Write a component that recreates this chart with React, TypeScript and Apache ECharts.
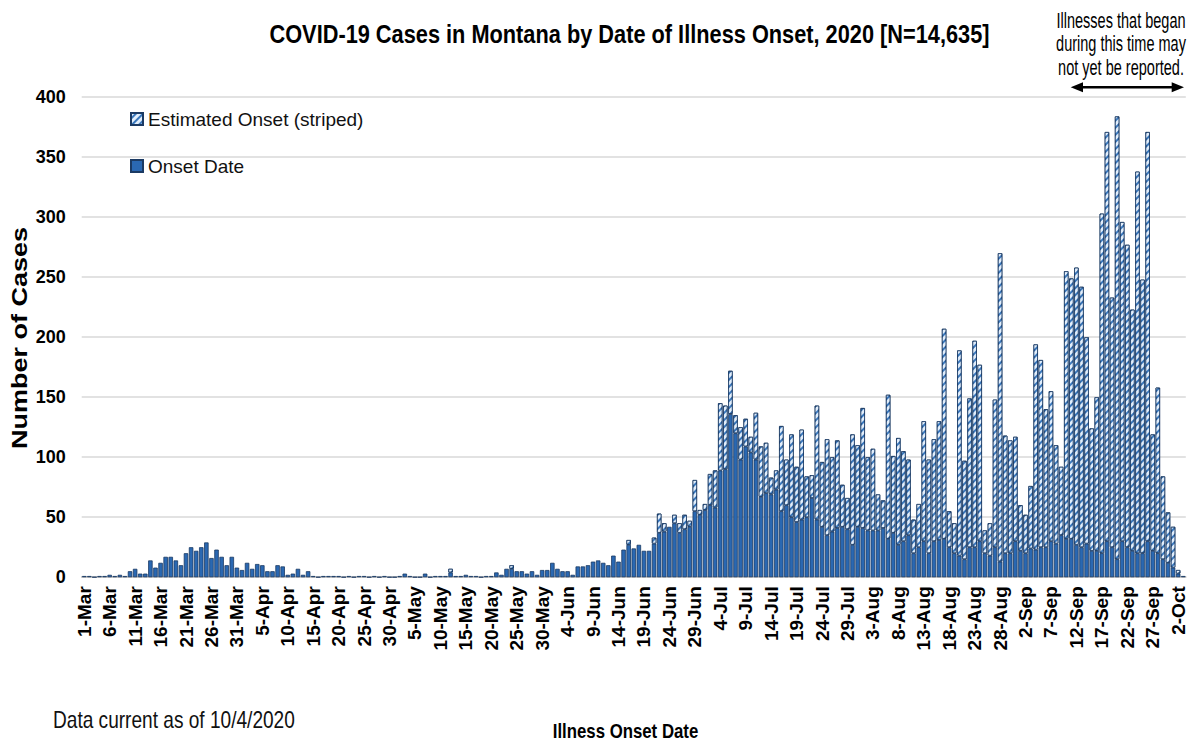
import React, { useEffect, useRef } from "react";
import * as echarts from "echarts";

// ---- categories (1-Mar .. 3-Oct 2020) ----
const monthNames = ["Mar", "Apr", "May", "Jun", "Jul", "Aug", "Sep", "Oct"];
const monthDays = [31, 30, 31, 30, 31, 31, 30, 3];
const categories: string[] = [];
monthNames.forEach((m, i) => {
  for (let d = 1; d <= monthDays[i]; d++) categories.push(`${d}-${m}`);
});

// ---- series values ----
// Onset Date (solid)
const onsetDate = [
  // 1-Mar .. 18-Apr
  1, 1, 0, 1, 1, 2, 1, 2, 1, 5, 7, 3, 3, 14, 8, 12, 17, 17, 14, 10,
  20, 25, 22, 25, 29, 16, 23, 17, 10, 17, 8, 6, 12, 7, 11, 10, 5, 5, 10, 9,
  2, 3, 7, 2, 5, 1, 0, 1, 1,
  // 19-Apr .. 13-May
  1, 1, 0, 1, 0, 1, 1, 0, 1, 0, 1, 0, 0, 1, 3, 1, 0, 0, 3, 0, 1, 1, 1, 4, 1,
  // 14-May .. 12-Jun
  1, 2, 1, 1, 0, 1, 1, 4, 2, 7, 7, 5, 5, 3, 5, 2, 6, 6, 12, 7, 5, 5, 2, 9, 9,
  10, 13, 14, 12, 10,
  // 13-Jun .. 19-Jul
  18, 13, 23, 27, 24, 27, 22, 22, 28, 37, 38, 42, 45, 37, 40, 42, 55, 52, 56, 60,
  58, 89, 90, 136, 120, 98, 109, 104, 98, 67, 70, 69, 73, 55, 60, 50, 46,
  // 20-Jul .. 10-Aug
  48, 50, 66, 48, 42, 35, 38, 41, 42, 40, 27, 42, 41, 39, 39, 39, 41, 32, 37, 27,
  30, 35,
  // 11-Aug .. 3-Oct
  20, 25, 30, 20, 30, 31, 32, 25, 20, 18, 15, 25, 25, 30, 20, 18, 25, 13, 20, 20,
  30, 22, 20, 24, 23, 25, 25, 30, 28, 35, 32, 32, 27, 25, 28, 22, 22, 20, 30, 25,
  15, 30, 25, 22, 20, 20, 30, 22, 20, 15, 12, 8, 3, 1,
];

// Estimated Onset (striped)
const estimatedOnset = [
  // 1-Mar .. 12-Jun
  0, 0, 0, 0, 0, 0, 0, 0, 0, 0, 0, 0, 0, 0, 0, 0, 0, 0, 0, 0,
  0, 0, 0, 0, 0, 0, 0, 0, 0, 0, 0, 0, 0, 0, 0, 0, 0, 0, 0, 0,
  0, 0, 0, 0, 0, 0, 0, 0, 0, 0, 0, 0, 0, 0, 0, 0, 0, 0, 0, 0,
  0, 0, 0, 0, 0, 0, 0, 0, 0, 0, 0, 0, 3, 0, 0, 0, 0, 0, 0, 0,
  0, 0, 0, 0, 3, 0, 0, 0, 0, 0, 0, 0, 0, 0, 0, 0, 0, 0, 0, 0,
  0, 0, 0, 0,
  // 13-Jun .. 19-Jul
  0, 0, 0, 4, 0, 0, 0, 0, 5, 16, 7, 0, 7, 8, 12, 5, 26, 4, 5, 26,
  31, 56, 53, 36, 15, 27, 23, 13, 39, 42, 42, 14, 16, 71, 38, 69, 46,
  // 20-Jul .. 10-Aug
  75, 34, 19, 95, 54, 80, 62, 73, 35, 26, 92, 68, 100, 61, 68, 30, 23, 120, 64, 89,
  75, 63,
  // 11-Aug .. 3-Oct
  28, 36, 100, 78, 85, 99, 175, 30, 25, 171, 82, 124, 172, 147, 19, 27, 123, 257, 98, 94,
  87, 38, 32, 52, 171, 156, 115, 125, 82, 57, 223, 217, 231, 217, 172, 102, 128, 283, 341, 208,
  369, 266, 252, 201, 318, 228, 341, 97, 138, 69, 42, 34, 3, 0,
];

const yTicks = { min: 0, max: 400, interval: 50 };

const seriesNames = ["Onset Date", "Estimated Onset (striped)"];
const titleText = "COVID-19 Cases in Montana by Date of Illness Onset, 2020 [N=14,635]";
const noteLines = ["Illnesses that began", "during this time may", "not yet be reported."];
const yAxisName = "Number of Cases";
const xAxisName = "Illness Onset Date";
const footText = "Data current as of 10/4/2020";

const SANS = "'Liberation Sans', Arial, Helvetica, sans-serif";

export default function App() {
  const ref = useRef<HTMLDivElement>(null);

  useEffect(() => {
    if (!ref.current) return;
    const chart = echarts.init(ref.current, undefined, { renderer: "svg" });

    const option: any = {
      animation: false,
      backgroundColor: "#ffffff",
      grid: { left: 81.7, right: 8.2, top: 97.2, bottom: 169.8, containLabel: false },
      legend: {
        data: [seriesNames[1], seriesNames[0]],
        orient: "vertical",
        left: 130,
        top: 107,
        padding: 0,
        itemGap: 23,
        itemWidth: 12,
        itemHeight: 12,
        icon: "rect",
        textStyle: { fontSize: 19, fontFamily: SANS, color: "#111", lineHeight: 24 },
      },
      xAxis: {
        type: "category",
        data: categories,
        boundaryGap: true,
        axisLine: { lineStyle: { color: "#bfbfbf", width: 1.5 } },
        axisTick: { interval: 4, length: 7, lineStyle: { color: "#bfbfbf", width: 1.2 } },
        axisLabel: {
          interval: 4,
          rotate: 90,
          fontSize: 19,
          fontWeight: "bold",
          fontFamily: SANS,
          color: "#000",
          margin: 9,
        },
      },
      yAxis: {
        type: "value",
        min: yTicks.min,
        max: yTicks.max,
        interval: yTicks.interval,
        axisLine: { show: false },
        axisTick: { show: false },
        splitLine: { lineStyle: { color: "#d9d9d9", width: 1.5 } },
        axisLabel: {
          fontSize: 18,
          fontWeight: "bold",
          fontFamily: SANS,
          color: "#000",
          margin: 16,
        },
      },
      series: [
        {
          name: seriesNames[0],
          type: "bar",
          stack: "cases",
          barCategoryGap: "12%",
          data: onsetDate,
          itemStyle: { color: "#2a68b2", borderColor: "#1b3a63", borderWidth: 0.8 },
        },
        {
          name: seriesNames[1],
          type: "bar",
          stack: "cases",
          barCategoryGap: "12%",
          data: estimatedOnset.map((v) => (v === 0 ? "-" : v)),
          itemStyle: {
            color: "#3a78bd",
            borderColor: "#1b3a63",
            borderWidth: 0.8,
            decal: {
              symbol: "rect",
              symbolSize: 1,
              color: "#e2eefb",
              dashArrayX: [1, 0],
              dashArrayY: [2.5, 2],
              rotation: -Math.PI / 4,
            },
          },
        },
      ],
      graphic: [
        {
          type: "text",
          x: 629.5,
          y: 34,
          scaleX: 0.837,
          style: {
            text: titleText,
            fontSize: 26,
            fontWeight: "bold",
            fontFamily: SANS,
            fill: "#000",
            textAlign: "center",
            textVerticalAlign: "middle",
          },
        },
        ...noteLines.map((t, i) => ({
          type: "text",
          x: 1121,
          y: 20.5 + i * 23.3,
          scaleX: 0.66,
          style: {
            text: t,
            fontSize: 22,
            fontFamily: SANS,
            fill: "#000",
            textAlign: "center",
            textVerticalAlign: "middle",
          },
        })),
        {
          type: "line",
          shape: { x1: 1080, y1: 87.3, x2: 1175, y2: 87.3 },
          style: { stroke: "#000", lineWidth: 2.5 },
        },
        {
          type: "polygon",
          shape: { points: [[1070.7, 87.3], [1083, 82.3], [1083, 92.3]] },
          style: { fill: "#000" },
        },
        {
          type: "polygon",
          shape: { points: [[1184, 87.3], [1171.7, 82.3], [1171.7, 92.3]] },
          style: { fill: "#000" },
        },
        {
          type: "text",
          x: 19,
          y: 338,
          rotation: Math.PI / 2,
          scaleY: 0.8,
          style: {
            text: yAxisName,
            fontSize: 27,
            fontWeight: "bold",
            fontFamily: SANS,
            fill: "#000",
            textAlign: "center",
            textVerticalAlign: "middle",
          },
        },
        {
          type: "text",
          x: 625.5,
          y: 731,
          scaleX: 0.84,
          style: {
            text: xAxisName,
            fontSize: 20,
            fontWeight: "bold",
            fontFamily: SANS,
            fill: "#000",
            textAlign: "center",
            textVerticalAlign: "middle",
          },
        },
        {
          type: "text",
          x: 53,
          y: 720,
          scaleX: 0.83,
          style: {
            text: footText,
            fontSize: 23,
            fontFamily: SANS,
            fill: "#111",
            textAlign: "left",
            textVerticalAlign: "middle",
          },
        },
      ],
    };

    chart.setOption(option);
    return () => chart.dispose();
  }, []);

  return (
    <div
      ref={ref}
      style={{ position: "absolute", left: 0, top: 0, width: 1194, height: 747, background: "#fff" }}
    />
  );
}
